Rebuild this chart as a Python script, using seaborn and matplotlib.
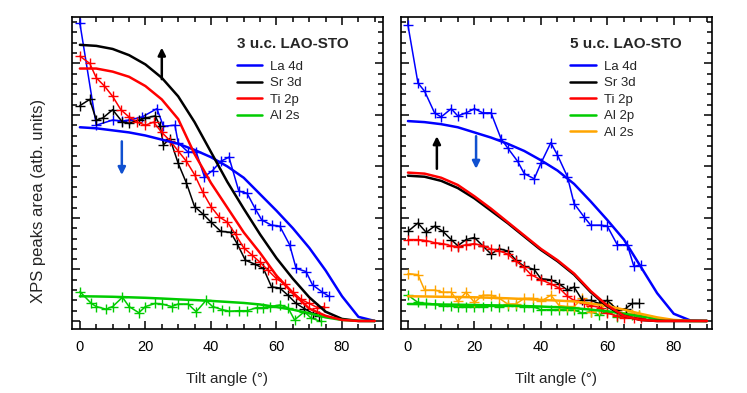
import numpy as np
import matplotlib
matplotlib.use("Agg")
import matplotlib.pyplot as plt
import seaborn as sns
from matplotlib.lines import Line2D
from matplotlib.ticker import MultipleLocator

# ---- data (arb. units) ----
fit_x = [0, 5, 10, 15, 20, 25, 30, 35, 40, 45, 50, 55, 60, 65, 70, 75, 80, 85, 90]

# 3 u.c. LAO-STO
l_la_x = [0, 5, 10, 13, 15, 19, 23.5, 25.5, 29, 30, 33, 35.5, 38, 40.5, 43, 45.5, 48.5, 51, 53.5, 55.5, 58.5, 61, 64, 66, 69, 71, 74, 76]
l_la_y = [28.9, 19.0, 19.5, 19.4, 19.5, 19.8, 20.6, 18.9, 19.0, 17.3, 16.4, 16.4, 14.0, 14.6, 15.5, 15.9, 12.6, 12.4, 10.9, 9.8, 9.3, 9.2, 7.4, 5.1, 4.8, 3.5, 2.8, 2.4]
l_sr_x = [0, 3, 5, 7, 10, 13, 15, 18, 20, 23, 24.5, 25.5, 27.5, 30, 32.5, 35, 37.5, 40, 43, 46, 48, 50.5, 53.5, 56, 58.5, 61, 63.5, 66, 68.5, 71, 73]
l_sr_y = [20.9, 21.5, 19.5, 19.7, 20.5, 19.3, 19.2, 19.5, 19.7, 19.9, 18.9, 17.1, 17.7, 15.3, 13.4, 11.1, 10.4, 9.6, 8.7, 8.6, 7.5, 5.9, 5.5, 5.1, 3.3, 3.2, 2.5, 1.7, 1.2, 0.75, 0.5]
l_ti_x = [0, 3, 5, 7.5, 10, 12.5, 15, 17.5, 20, 22.5, 25, 27.5, 30, 32.5, 35, 37.5, 40, 42.5, 45, 47.5, 50, 52.5, 55, 57.5, 60, 62.5, 65, 67.5, 70, 72.5, 74.5]
l_ti_y = [25.7, 25.0, 23.6, 22.8, 21.8, 20.5, 19.8, 19.3, 19.0, 19.3, 18.3, 17.5, 16.5, 15.5, 14.2, 12.5, 11.1, 10.1, 9.6, 8.4, 7.1, 6.4, 5.7, 4.9, 4.1, 3.6, 2.8, 2.1, 1.7, 1.3, 1.4]
l_al_x = [0, 3.5, 5, 8, 10, 13, 15, 18, 20, 23, 25, 28, 30, 33, 35.5, 38.5, 40.5, 43.5, 45.5, 48.5, 51, 54, 56, 58, 61, 63.5, 65.5, 68.5, 70.5, 73.5]
l_al_y = [2.85, 1.7, 1.4, 1.15, 1.4, 2.3, 1.4, 0.8, 1.4, 1.7, 1.65, 1.4, 1.65, 1.65, 0.9, 2.0, 1.4, 1.1, 0.95, 1.0, 1.0, 1.3, 1.3, 1.4, 1.55, 1.3, 0.1, 0.9, 0.3, -0.05]

l_la_fit = [18.8, 18.7, 18.5, 18.3, 18.0, 17.6, 17.2, 16.6, 15.9, 15.0, 13.9, 12.3, 10.7, 9.0, 7.1, 4.9, 2.4, 0.4, 0.0]
l_sr_fit = [26.8, 26.7, 26.4, 25.8, 24.9, 23.6, 21.8, 19.3, 16.4, 13.5, 10.9, 8.4, 6.1, 4.1, 2.3, 0.9, 0.2, 0.0, 0.0]
l_ti_fit = [24.5, 24.5, 24.2, 23.7, 22.8, 21.5, 19.6, 16.2, 13.4, 11.0, 8.6, 6.6, 4.4, 2.7, 1.2, 0.5, 0.1, 0.0, 0.0]
l_al_fit = [2.4, 2.38, 2.35, 2.3, 2.25, 2.18, 2.1, 2.03, 1.95, 1.85, 1.75, 1.6, 1.35, 1.1, 0.75, 0.35, 0.1, 0.02, 0.0]

# 5 u.c. LAO-STO
r_la_x = [0, 3, 5, 8, 10, 13, 15, 17.5, 20, 22.5, 25, 28, 30, 33, 35, 38, 40, 43, 45, 48, 50, 53, 55, 58, 60, 63, 66, 68, 70]
r_la_y = [28.7, 23.1, 22.3, 20.2, 19.8, 20.6, 19.9, 20.2, 20.6, 20.2, 20.2, 17.7, 16.8, 15.5, 14.3, 13.8, 15.3, 17.3, 16.1, 14.0, 11.4, 10.1, 9.3, 9.3, 9.2, 7.4, 7.4, 5.3, 5.4]
r_sr_x = [0, 3, 5.5, 8, 10.5, 13, 15, 17.5, 20, 22.5, 25, 27.5, 30, 32.5, 35, 38, 40, 43, 45.5, 48, 50, 52.5, 55, 57.5, 60, 63, 65.5, 67.5, 69.5]
r_sr_y = [8.7, 9.5, 8.6, 9.2, 8.7, 7.9, 7.3, 7.9, 8.1, 7.3, 6.5, 7.0, 6.8, 5.9, 5.3, 5.0, 4.1, 4.0, 3.6, 3.0, 3.3, 2.0, 2.0, 1.7, 2.0, 1.1, 1.2, 1.7, 1.7]
r_ti_x = [0, 3, 5.5, 8, 10.5, 13, 15, 17.5, 20, 22.5, 25, 27.5, 30, 32.5, 35, 37, 40, 43, 45.5, 48, 50, 53, 55, 58, 60, 63, 65, 68, 70]
r_ti_y = [7.9, 7.9, 7.8, 7.6, 7.5, 7.3, 7.2, 7.4, 7.5, 7.3, 7.0, 6.8, 6.5, 5.8, 5.2, 4.5, 4.0, 3.6, 3.2, 2.4, 2.0, 1.7, 1.5, 1.3, 0.75, 0.5, 0.3, 0.3, 0.3]
r_al2p_x = [0, 3, 5.5, 8, 10.5, 13, 15, 17.5, 20, 22.5, 25, 27.5, 30, 32.5, 35, 37.5, 40, 43, 45.5, 48, 50, 52.5, 55, 57.5, 60, 63, 65.5, 67.5, 69.5]
r_al2p_y = [2.5, 1.8, 1.7, 1.65, 1.45, 1.45, 1.4, 1.4, 1.4, 1.4, 1.45, 1.4, 1.45, 1.45, 1.4, 1.4, 1.1, 1.1, 1.1, 1.07, 1.07, 0.75, 0.9, 0.6, 0.9, 0.4, 0.75, 0.6, 0.6]
r_al2s_x = [0, 3, 5, 8, 10.5, 13, 15, 17.5, 20, 22.5, 25, 27.5, 30, 32.5, 35, 37.5, 40, 43, 45.5, 48, 50, 52.5, 55, 57.5, 60, 63, 65.5, 67.5, 69.5]
r_al2s_y = [4.6, 4.5, 3.0, 3.0, 2.8, 2.8, 1.9, 2.8, 1.8, 2.5, 2.5, 2.2, 1.65, 1.65, 2.2, 2.2, 1.9, 2.5, 1.5, 1.4, 1.4, 2.2, 0.9, 1.05, 1.7, 0.9, 0.75, 0.7, 0.6]

r_la_fit = [19.4, 19.3, 19.1, 18.8, 18.3, 17.8, 17.2, 16.5, 15.6, 14.6, 13.3, 11.6, 9.8, 7.9, 5.3, 2.7, 0.7, 0.05, 0.0]
r_sr_fit = [14.1, 14.0, 13.6, 12.9, 11.9, 10.7, 9.5, 8.2, 6.9, 5.8, 4.5, 2.8, 1.4, 0.5, 0.1, 0.0, 0.0, 0.0, 0.0]
r_ti_fit = [14.4, 14.3, 13.9, 13.2, 12.1, 10.9, 9.6, 8.3, 7.0, 5.9, 4.6, 2.9, 1.5, 0.5, 0.1, 0.0, 0.0, 0.0, 0.0]
r_al2p_fit = [1.65, 1.63, 1.6, 1.58, 1.55, 1.52, 1.5, 1.45, 1.4, 1.33, 1.25, 1.1, 0.95, 0.7, 0.45, 0.2, 0.05, 0.0, 0.0]
r_al2s_fit = [2.4, 2.38, 2.35, 2.33, 2.3, 2.25, 2.2, 2.13, 2.05, 1.98, 1.9, 1.7, 1.45, 1.1, 0.7, 0.35, 0.1, 0.02, 0.0]

BLUE, BLACK, RED, GREEN, ORANGE = "#0000ff", "#000000", "#ff0000", "#00cc00", "#ffa500"
ARROW_BLUE = "#1050d0"
FS = 9.5

sns.set_theme(style="ticks")
plt.rcParams['font.family'] = ['Liberation Sans', 'DejaVu Sans']
plt.rcParams['font.size'] = FS

fig = plt.figure(figsize=(7.47, 3.93), dpi=100)
ax1 = fig.add_axes([0.0964, 0.1628, 0.4163, 0.7939])
ax2 = fig.add_axes([0.5368, 0.1628, 0.4163, 0.7939])


def draw_data(ax, x, y, c):
    sns.lineplot(x=x, y=y, ax=ax, color=c, lw=1.1, linestyle="-", marker="+",
                 markersize=7, markeredgewidth=1.0, markeredgecolor=c,
                 sort=False, estimator=None)


def draw_fit(ax, y, c):
    sns.lineplot(x=fit_x, y=y, ax=ax, color=c, lw=1.8, sort=False, estimator=None)


def style_axes(ax):
    ax.set_xlim(-2.4, 92.5)
    ax.set_ylim(-0.78, 29.5)
    ax.xaxis.set_major_locator(MultipleLocator(20))
    ax.xaxis.set_minor_locator(MultipleLocator(5))
    ax.yaxis.set_major_locator(MultipleLocator(5))
    ax.yaxis.set_minor_locator(MultipleLocator(1))
    ax.tick_params(which="both", direction="in", top=True, right=True, width=1.1, colors="black")
    ax.tick_params(which="major", length=6)
    ax.tick_params(which="minor", length=3.5)
    ax.tick_params(axis="x", pad=8, labelsize=10.5)
    ax.set_yticklabels([])
    for s in ax.spines.values():
        s.set_linewidth(1.2)
        s.set_color("black")
    ax.set_xlabel("Tilt angle (°)", fontsize=11, labelpad=13)


def add_legend(ax, colors, labels, title, x0):
    handles = [Line2D([], [], color=c, lw=1.8) for c in colors]
    leg = ax.legend(handles, labels, title=title, loc="upper left",
                    bbox_to_anchor=(x0, 0.937), frameon=False, fontsize=FS,
                    handlelength=1.9, handletextpad=0.65, labelspacing=0.33,
                    borderaxespad=0, borderpad=0)
    leg.get_title().set_fontweight("bold")
    leg.get_title().set_fontsize(11)
    leg._legend_box.align = "left"
    leg._legend_box.sep = 7
    return leg


# left panel
draw_data(ax1, l_al_x, l_al_y, GREEN)
draw_data(ax1, l_la_x, l_la_y, BLUE)
draw_data(ax1, l_sr_x, l_sr_y, BLACK)
draw_data(ax1, l_ti_x, l_ti_y, RED)
draw_fit(ax1, l_la_fit, BLUE)
draw_fit(ax1, l_sr_fit, BLACK)
draw_fit(ax1, l_al_fit, GREEN)
draw_fit(ax1, l_ti_fit, RED)
style_axes(ax1)
ax1.set_ylabel("XPS peaks area (atb. units)", fontsize=12)
ax1.yaxis.set_label_coords(-0.085, 0.41)
ax1.annotate("", xy=(25, 26.8), xytext=(25, 23.2),
             arrowprops=dict(arrowstyle="-|>", color="black", lw=1.8, mutation_scale=11))
ax1.annotate("", xy=(12.8, 13.9), xytext=(12.8, 17.7),
             arrowprops=dict(arrowstyle="-|>", color=ARROW_BLUE, lw=1.8, mutation_scale=11))
add_legend(ax1, (BLUE, BLACK, RED, GREEN), ["La 4d", "Sr 3d", "Ti 2p", "Al 2s"],
           "3 u.c. LAO-STO", 0.53)

# right panel
draw_data(ax2, r_al2p_x, r_al2p_y, GREEN)
draw_data(ax2, r_al2s_x, r_al2s_y, ORANGE)
draw_data(ax2, r_la_x, r_la_y, BLUE)
draw_data(ax2, r_sr_x, r_sr_y, BLACK)
draw_data(ax2, r_ti_x, r_ti_y, RED)
draw_fit(ax2, r_la_fit, BLUE)
draw_fit(ax2, r_al2p_fit, GREEN)
draw_fit(ax2, r_al2s_fit, ORANGE)
draw_fit(ax2, r_sr_fit, BLACK)
draw_fit(ax2, r_ti_fit, RED)
style_axes(ax2)
ax2.set_xlim(-2.1, 91.5)
ax2.annotate("", xy=(8.7, 18.2), xytext=(8.7, 14.5),
             arrowprops=dict(arrowstyle="-|>", color="black", lw=1.8, mutation_scale=11))
ax2.annotate("", xy=(20.5, 14.5), xytext=(20.5, 18.2),
             arrowprops=dict(arrowstyle="-|>", color=ARROW_BLUE, lw=1.8, mutation_scale=11))
add_legend(ax2, (BLUE, BLACK, RED, GREEN, ORANGE), ["La 4d", "Sr 3d", "Ti 2p", "Al 2p", "Al 2s"],
           "5 u.c. LAO-STO", 0.545)

fig.savefig("out.png", dpi=100)
